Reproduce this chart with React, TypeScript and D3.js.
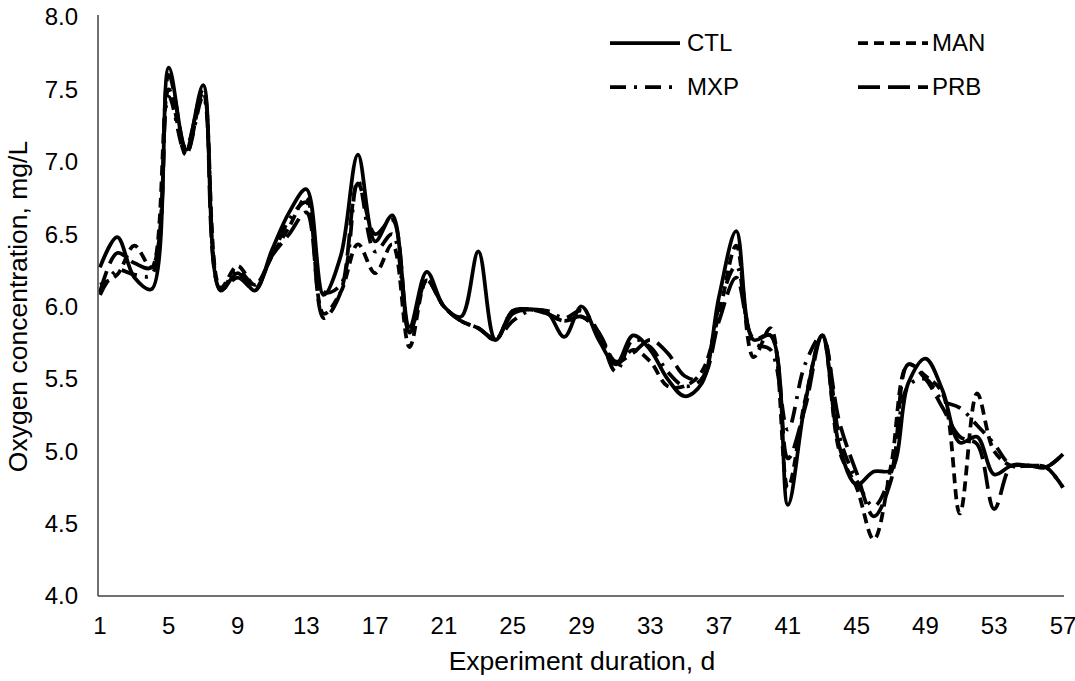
import React from "react";
import * as d3 from "d3";

const days = d3.range(1, 58);
const xTickLabels = [1, 5, 9, 13, 17, 21, 25, 29, 33, 37, 41, 45, 49, 53, 57];
const yTickLabels = [4.0, 4.5, 5.0, 5.5, 6.0, 6.5, 7.0, 7.5, 8.0];

const ctl = [6.27, 6.48, 6.2, 6.12, 7.65, 7.08, 7.53, 6.11, 6.23, 6.11, 6.39, 6.65, 6.81, 6.08, 6.35, 7.05, 6.45, 6.63, 5.86, 6.24, 6.0, 5.93, 6.38, 5.77, 5.95, 5.98, 5.96, 5.79, 6.0, 5.77, 5.6, 5.8, 5.7, 5.5, 5.38, 5.47, 6.07, 6.52, 5.77, 5.8, 4.63, 5.33, 5.8, 5.03, 4.77, 4.86, 4.87, 5.47, 5.64, 5.42, 5.06, 5.1, 4.84, 4.9, 4.9, 4.89, 4.98];
const man = [6.15, 6.22, 6.42, 6.27, 7.5, 7.05, 7.48, 6.13, 6.28, 6.15, 6.35, 6.55, 6.75, 5.95, 6.1, 6.43, 6.23, 6.43, 5.72, 6.18, 6.0, 5.9, 5.85, 5.77, 5.97, 5.98, 5.95, 5.9, 5.93, 5.82, 5.6, 5.7, 5.62, 5.45, 5.45, 5.55, 5.95, 6.42, 5.65, 5.85, 4.75, 5.35, 5.8, 5.0, 4.75, 4.39, 4.9, 5.6, 5.52, 5.4, 4.57, 5.4, 5.0, 4.9, 4.9, 4.89, 4.98];
const mxp = [6.08, 6.25, 6.22, 6.22, 7.45, 7.05, 7.45, 6.12, 6.25, 6.15, 6.35, 6.6, 6.72, 6.1, 6.15, 6.87, 6.38, 6.5, 5.82, 6.18, 6.0, 5.9, 5.85, 5.78, 5.9, 5.97, 5.97, 5.92, 5.97, 5.82, 5.55, 5.77, 5.72, 5.55, 5.45, 5.5, 6.0, 6.28, 5.75, 5.7, 5.15, 5.6, 5.8, 5.1, 4.8, 4.62, 4.85, 5.45, 5.5, 5.35, 5.3, 5.18, 5.05, 4.9, 4.9, 4.89, 4.75];
const prb = [6.1, 6.37, 6.3, 6.27, 7.6, 7.1, 7.5, 6.12, 6.2, 6.12, 6.35, 6.5, 6.65, 5.92, 6.1, 6.85, 6.5, 6.6, 5.82, 6.18, 6.0, 5.9, 5.85, 5.77, 5.97, 5.98, 5.95, 5.9, 5.93, 5.82, 5.62, 5.68, 5.77, 5.68, 5.52, 5.5, 5.9, 6.2, 5.78, 5.8, 4.95, 5.3, 5.8, 5.2, 4.85, 4.55, 4.8, 5.6, 5.5, 5.3, 5.1, 5.05, 4.6, 4.9, 4.9, 4.89, 4.75];

const seriesNames = ["CTL", "MAN", "MXP", "PRB"];
const seriesValues = [ctl, man, mxp, prb];
const dashes = ["none", "10,6", "16,8,3,8", "22,8"];

const W = 1075;
const H = 681;
const left = 98;
const right = 1064;
const top = 17;
const bottom = 596;
const FONT = "'Liberation Sans', Arial, sans-serif";

export default function App() {
  const x = d3.scaleLinear().domain([1, 57]).range([left + 2, right - 1]);
  const y = d3.scaleLinear().domain([4, 8]).range([bottom, top]);
  const line = d3
    .line<number>()
    .x((_, i) => x(days[i]))
    .y((v) => y(v))
    .curve(d3.curveCatmullRom.alpha(0.5));

  const legendPos = [
    { lx: 610, ly: 43, tx: 687 },
    { lx: 858, ly: 43, tx: 932 },
    { lx: 610, ly: 87, tx: 687 },
    { lx: 858, ly: 87, tx: 932 },
  ];

  return (
    <svg
      width={W}
      height={H}
      style={{ position: "absolute", left: 0, top: 0, background: "#fff" }}
      fontFamily={FONT}
    >
      <rect x={0} y={0} width={W} height={H} fill="#fff" />
      {seriesValues.map((vals, i) => (
        <path
          key={seriesNames[i]}
          d={line(vals) || ""}
          fill="none"
          stroke="#000"
          strokeWidth={3.75}
          strokeDasharray={dashes[i]}
          strokeLinejoin="round"
        />
      ))}
      <line x1={left} x2={left} y1={15} y2={bottom} stroke="#404040" strokeWidth={1.5} />
      <line x1={left} x2={right} y1={bottom} y2={bottom} stroke="#404040" strokeWidth={1.5} />
      {yTickLabels.map((t) => (
        <text
          key={t}
          x={78}
          y={y(t)}
          dy="0.35em"
          textAnchor="end"
          fontSize={24}
          fill="#000"
        >
          {t.toFixed(1)}
        </text>
      ))}
      {xTickLabels.map((t) => (
        <text key={t} x={x(t)} y={634} textAnchor="middle" fontSize={24} fill="#000">
          {t}
        </text>
      ))}
      <text x={582} y={670} textAnchor="middle" fontSize={26.5} fill="#000">
        Experiment duration, d
      </text>
      <text
        transform={`translate(27,${(top + bottom) / 2}) rotate(-90)`}
        textAnchor="middle"
        fontSize={26.5}
        fill="#000"
      >
        Oxygen concentration, mg/L
      </text>
      {seriesNames.map((name, i) => {
        const p = legendPos[i];
        return (
          <g key={name}>
            <line
              x1={p.lx}
              x2={p.lx + 70}
              y1={p.ly}
              y2={p.ly}
              stroke="#000"
              strokeWidth={3.75}
              strokeDasharray={dashes[i]}
            />
            <text x={p.tx} y={p.ly} dy="0.35em" fontSize={24} fill="#000">
              {name}
            </text>
          </g>
        );
      })}
    </svg>
  );
}
